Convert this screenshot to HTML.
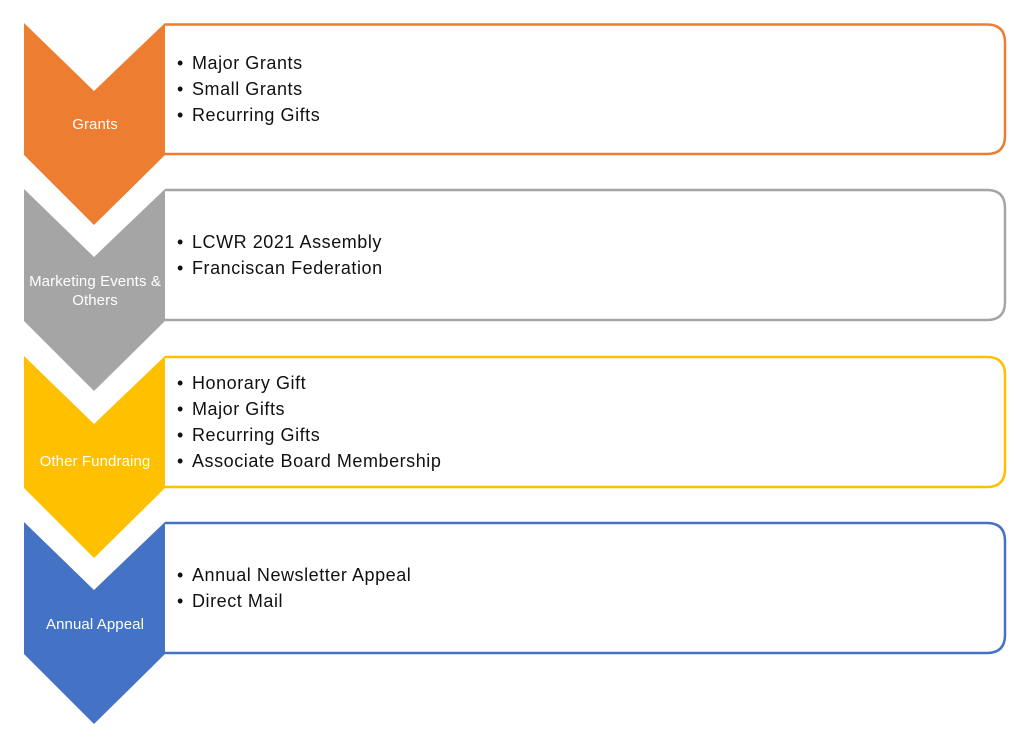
<!DOCTYPE html>
<html><head><style>
html,body{margin:0;padding:0;background:#fff;}
svg{display:block;}
text{font-family:"Liberation Sans",sans-serif;}
.i{font-size:18px;fill:#111;letter-spacing:0.55px;}
.l{font-size:15px;fill:#fff;letter-spacing:0.1px;}
</style></head><body>
<svg width="1024" height="732" viewBox="0 0 1024 732">
<path d="M165 24.5 H987 Q1005 24.5 1005 42.5 V136 Q1005 154 987 154 H165" fill="#fff" stroke="#ED7D31" stroke-width="2.5"/>
<path d="M165 190 H987 Q1005 190 1005 208 V302 Q1005 320 987 320 H165" fill="#fff" stroke="#A5A5A5" stroke-width="2.5"/>
<path d="M165 357 H987 Q1005 357 1005 375 V469 Q1005 487 987 487 H165" fill="#fff" stroke="#FFC000" stroke-width="2.5"/>
<path d="M165 523 H987 Q1005 523 1005 541 V635 Q1005 653 987 653 H165" fill="#fff" stroke="#4472C4" stroke-width="2.5"/>
<polygon points="24,23 94,91 165,23 165,155 94,225 24,155" fill="#ED7D31"/>
<polygon points="24,189 94,257 165,189 165,321 94,391 24,321" fill="#A5A5A5"/>
<polygon points="24,356 94,424 165,356 165,488 94,558 24,488" fill="#FFC000"/>
<polygon points="24,522 94,590 165,522 165,654 94,724 24,654" fill="#4472C4"/>
<text class="l" x="95" y="129" text-anchor="middle">Grants</text>
<text class="l" x="95" y="286" text-anchor="middle">Marketing Events &amp;</text>
<text class="l" x="95" y="305" text-anchor="middle">Others</text>
<text class="l" x="95" y="466" text-anchor="middle">Other Fundraing</text>
<text class="l" x="95" y="629" text-anchor="middle">Annual Appeal</text>
<g class="i">
<text x="177" y="69">•</text><text x="192" y="69">Major Grants</text>
<text x="177" y="95">•</text><text x="192" y="95">Small Grants</text>
<text x="177" y="121">•</text><text x="192" y="121">Recurring Gifts</text>
<text x="177" y="248">•</text><text x="192" y="248">LCWR 2021 Assembly</text>
<text x="177" y="274">•</text><text x="192" y="274">Franciscan Federation</text>
<text x="177" y="389">•</text><text x="192" y="389">Honorary Gift</text>
<text x="177" y="415">•</text><text x="192" y="415">Major Gifts</text>
<text x="177" y="441">•</text><text x="192" y="441">Recurring Gifts</text>
<text x="177" y="467">•</text><text x="192" y="467">Associate Board Membership</text>
<text x="177" y="581">•</text><text x="192" y="581">Annual Newsletter Appeal</text>
<text x="177" y="607">•</text><text x="192" y="607">Direct Mail</text>
</g>
</svg>
</body></html>
